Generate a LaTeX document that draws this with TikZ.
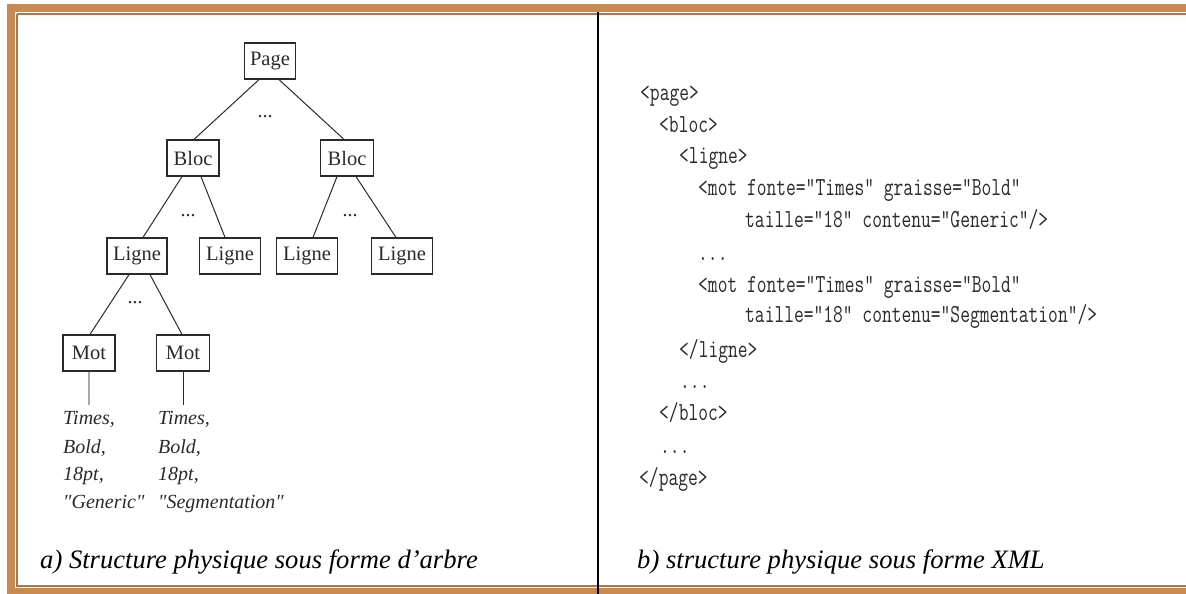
\documentclass[tikz,border=0pt]{standalone}
\usepackage{fontspec}
\setmainfont{Liberation Serif}
\usepackage{graphicx}
\definecolor{frameband}{HTML}{C98A52}
\definecolor{frameline}{HTML}{B5753F}
\definecolor{inkgray}{HTML}{2A2A2A}
\definecolor{lightgray}{HTML}{A8A8A8}
\tikzset{
  treebox/.style={draw=inkgray, line width=1.2pt, minimum height=36pt, inner sep=0pt,
    font=\fontsize{20.5}{24}\selectfont, text=inkgray},
  edge/.style={draw=inkgray, line width=1pt},
  leaftext/.style={anchor=base west, inner sep=0pt, font=\fontsize{20}{24}\selectfont\itshape, text=inkgray},
  xmltext/.style={anchor=base west, inner sep=0pt, font=\fontsize{26}{30}\selectfont\ttfamily, text=inkgray},
  captiontext/.style={anchor=base west, inner sep=0pt, font=\fontsize{26.6}{32}\selectfont\itshape},
  dotslabel/.style={inner sep=0pt, font=\fontsize{20}{24}\selectfont, text=inkgray}
}
\newcommand{\xm}[1]{\scalebox{0.73}[1]{#1}}
\newcommand{\qq}{\textquotedbl}
\begin{document}
\begin{tikzpicture}[x=1pt,y=-1pt]
\useasboundingbox (0,0) rectangle (1186,594);
% frame
\fill[frameband] (7,4) rectangle (1186,12);
\fill[frameband] (7,4) rectangle (15,594);
\fill[frameband] (7,588) rectangle (1186,594);
\draw[frameline, line width=1.5pt] (17,14) -- (1186,14);
\draw[frameline, line width=1.5pt] (17,14) -- (17,586) -- (1186,586);
% divider
\draw[black, line width=1.6pt] (598,12) -- (598,594);

% tree nodes
\node[treebox, minimum width=51pt] (page) at (270,61) {Page};
\node[treebox, minimum width=52pt] (bloc1) at (193,158) {Bloc};
\node[treebox, minimum width=53pt] (bloc2) at (347,158) {Bloc};
\node[treebox, minimum width=60pt] (ligne1) at (137,256) {Ligne};
\node[treebox, minimum width=61pt] (ligne2) at (230,256) {Ligne};
\node[treebox, minimum width=61pt] (ligne3) at (307,256) {Ligne};
\node[treebox, minimum width=61pt] (ligne4) at (402,256) {Ligne};
\node[treebox, minimum width=52pt] (mot1) at (89,353) {Mot};
\node[treebox, minimum width=53pt] (mot2) at (183,353) {Mot};

% dots
\node[dotslabel] (d1) at (265,117) {...};
\node[dotslabel] (d2) at (188,216) {...};
\node[dotslabel] (d3) at (350,216) {...};
\node[dotslabel] (d4) at (135,303) {...};

% edges
\draw[edge] ([xshift=-11pt]page.south) -- ([xshift=1pt]bloc1.north);
\draw[edge] ([xshift=9pt]page.south) -- ([xshift=-3pt]bloc2.north);
\draw[edge] ([xshift=-11pt]bloc1.south) -- ([xshift=6pt]ligne1.north);
\draw[edge] ([xshift=8pt]bloc1.south) -- ([xshift=-5pt]ligne2.north);
\draw[edge] ([xshift=-10pt]bloc2.south) -- ([xshift=6pt]ligne3.north);
\draw[edge] ([xshift=9pt]bloc2.south) -- ([xshift=-6pt]ligne4.north);
\draw[edge] ([xshift=-8pt]ligne1.south) -- ([xshift=1pt]mot1.north);
\draw[edge] ([xshift=13pt]ligne1.south) -- ([xshift=-1pt]mot2.north);

% leaf links
\coordinate (m1end) at (89,405);
\coordinate (m2end) at (183,405);
\draw[lightgray, line width=1.2pt] (mot1.south) -- (m1end);
\draw[edge] (mot2.south) -- (m2end);

% leaf texts
\node[leaftext] (l1a) at (63,424) {Times,};
\node[leaftext] (l1b) at (63,453) {Bold,};
\node[leaftext] (l1c) at (63,480) {18pt,};
\node[leaftext] (l1d) at (63,508) {\qq Generic\qq};
\node[leaftext] (l2a) at (158,424) {Times,};
\node[leaftext] (l2b) at (158,453) {Bold,};
\node[leaftext] (l2c) at (158,480) {18pt,};
\node[leaftext] (l2d) at (158,508) {\qq Segmentation\qq};

% XML
\node[xmltext] (x1) at (640,100) {\xm{<page>}};
\node[xmltext] (x2) at (659,132) {\xm{<bloc>}};
\node[xmltext] (x3) at (679,163) {\xm{<ligne>}};
\node[xmltext] (x4) at (698,195) {\xm{<mot fonte="Times" graisse="Bold"}};
\node[xmltext] (x5) at (745,227) {\xm{taille="18" contenu="Generic"/>}};
\node[xmltext] (x6) at (698,260) {\xm{...}};
\node[xmltext] (x7) at (698,292) {\xm{<mot fonte="Times" graisse="Bold"}};
\node[xmltext] (x8) at (745,322) {\xm{taille="18" contenu="Segmentation"/>}};
\node[xmltext] (x9) at (679,357) {\xm{</ligne>}};
\node[xmltext] (x10) at (680,388) {\xm{...}};
\node[xmltext] (x11) at (659,420) {\xm{</bloc>}};
\node[xmltext] (x12) at (660,453) {\xm{...}};
\node[xmltext] (x13) at (639,485) {\xm{</page>}};

% captions
\node[captiontext] (capa) at (40,568) {a) Structure physique sous forme d’arbre};
\node[captiontext] (capb) at (637,568) {b) structure physique sous forme XML};
\end{tikzpicture}
\end{document}
